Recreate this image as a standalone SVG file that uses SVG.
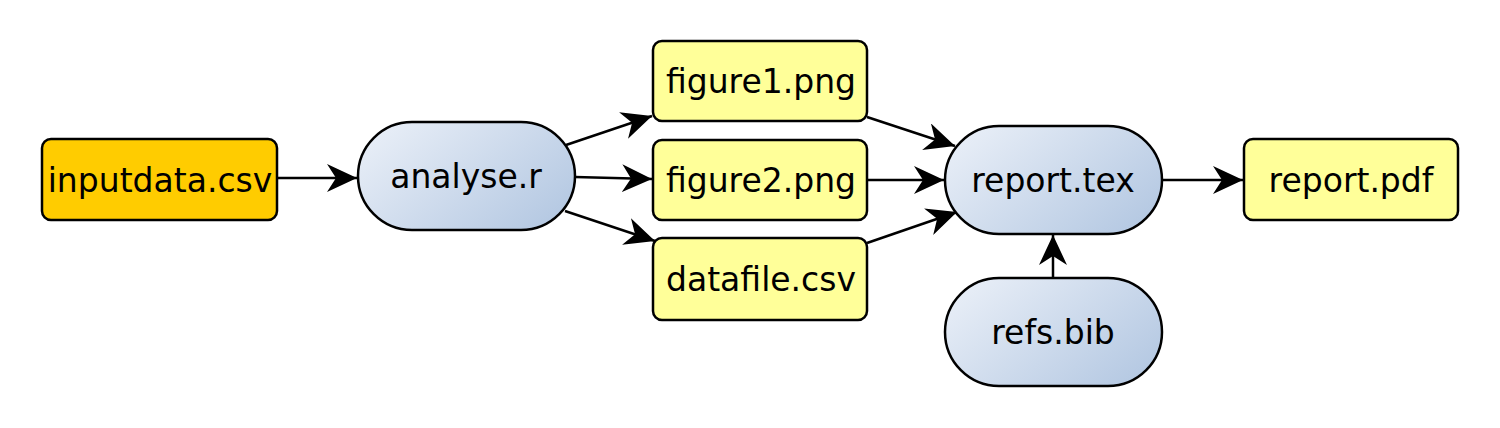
<svg xmlns="http://www.w3.org/2000/svg" width="1500" height="428" viewBox="0 0 1500 428">
<style>
.box{stroke:#000;stroke-width:2.5}
.file{fill:#ffff99}
.input{fill:#ffcc00}
.proc{fill:url(#grad);stroke:#000;stroke-width:2.5}
.lbl{font-family:"DejaVu Sans",sans-serif;font-size:33px;fill:#000;text-anchor:middle}
.edge{stroke:#000;stroke-width:2.5;fill:none;marker-end:url(#arr)}
</style>
<defs>
<linearGradient id="grad" x1="0" y1="0.2" x2="1" y2="0.8">
<stop offset="0" stop-color="#e8eef7"/>
<stop offset="1" stop-color="#b4c8e2"/>
</linearGradient>
<marker id="arr" markerUnits="userSpaceOnUse" markerWidth="32" markerHeight="30" refX="30" refY="14" orient="auto" viewBox="0 0 32 30">
<path d="M30,14 L0,0 L9,14 L0,28 Z" fill="#000"/>
</marker>
</defs>
<g id="connectors">
<line class="edge" x1="277" y1="178" x2="357" y2="178"/>
<line class="edge" x1="566" y1="145" x2="652" y2="116"/>
<line class="edge" x1="575" y1="177" x2="652" y2="179"/>
<line class="edge" x1="565" y1="211" x2="655" y2="241"/>
<line class="edge" x1="867" y1="117" x2="955" y2="146"/>
<line class="edge" x1="867" y1="180" x2="944" y2="180"/>
<line class="edge" x1="867" y1="243" x2="957" y2="212"/>
<line class="edge" x1="1162" y1="180" x2="1243" y2="180"/>
<line class="edge" x1="1053" y1="278" x2="1053" y2="235"/>
</g>
<g id="inputdata">
<rect class="box input" x="42" y="139" width="235" height="81" rx="9"/>
<text class="lbl" x="160" y="192">inputdata.csv</text>
</g>
<g id="analyse">
<rect class="proc" x="358" y="122" width="217" height="108" rx="54"/>
<text class="lbl" x="466" y="188">analyse.r</text>
</g>
<g id="figure1">
<rect class="box file" x="653" y="41" width="214" height="80" rx="9"/>
<text class="lbl" x="761" y="93">figure1.png</text>
</g>
<g id="figure2">
<rect class="box file" x="653" y="140" width="214" height="80" rx="9"/>
<text class="lbl" x="761" y="192">figure2.png</text>
</g>
<g id="datafile">
<rect class="box file" x="653" y="238" width="214" height="82" rx="9"/>
<text class="lbl" x="761" y="291">datafile.csv</text>
</g>
<g id="reporttex">
<rect class="proc" x="945" y="126" width="217" height="108" rx="54"/>
<text class="lbl" x="1053" y="192">report.tex</text>
</g>
<g id="refsbib">
<rect class="proc" x="945" y="278" width="217" height="108" rx="54"/>
<text class="lbl" x="1053" y="344">refs.bib</text>
</g>
<g id="reportpdf">
<rect class="box file" x="1244" y="139" width="214" height="81" rx="9"/>
<text class="lbl" x="1351" y="192">report.pdf</text>
</g>
</svg>
